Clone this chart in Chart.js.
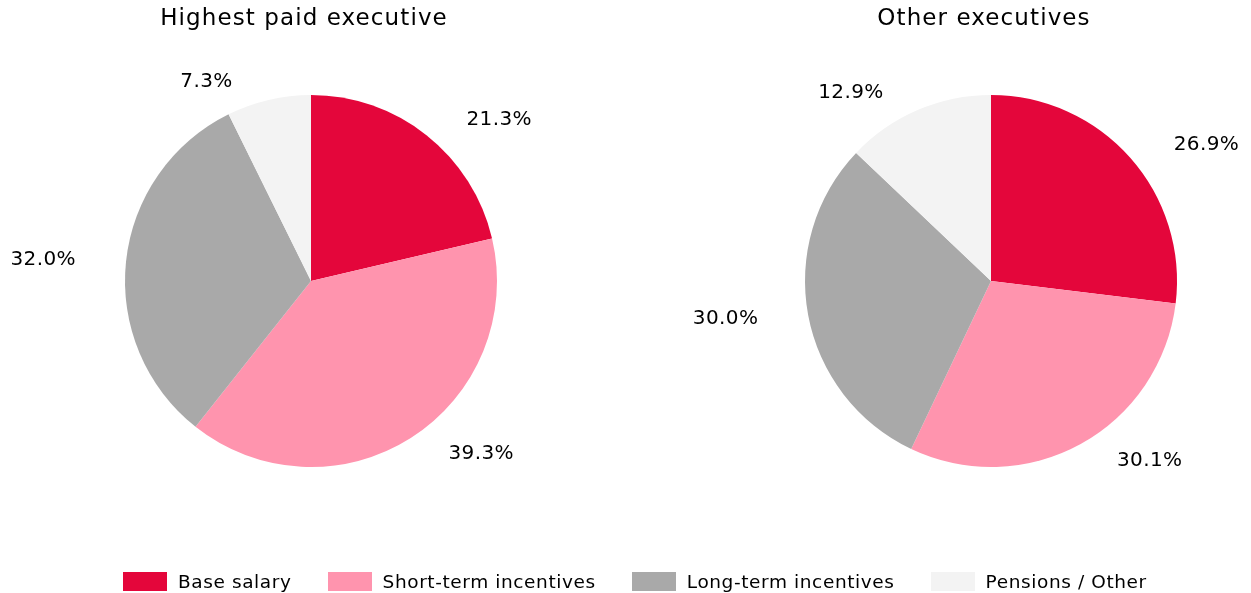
<!DOCTYPE html>
<html>
<head>
<meta charset="utf-8">
<script src="https://cdn.jsdelivr.net/npm/chart.js@4"></script>
<style>
  html, body { margin: 0; padding: 0; background: #fff; }
  body { width: 1251px; height: 593px; position: relative; overflow: hidden; font-family: "DejaVu Sans", sans-serif; }
  .pie { position: absolute; top: 0; width: 622px; height: 593px; }
  #legend { position: absolute; left: 123px; top: 571px; display: flex; align-items: center; font-size: 18.5px; letter-spacing: 0.6px; color: #000; }
  #legend .item { display: flex; align-items: center; margin-right: 36px; }
  #legend .box { width: 44px; height: 19px; margin-right: 11px; }
</style>
</head>
<body>
<div class="pie" style="left:0px"><canvas id="pieLeft"></canvas></div>
<div class="pie" style="left:680px"><canvas id="pieRight"></canvas></div>
<div id="legend"></div>
<script>
// categories and values (percent of total pay)
var categories = ['Base salary', 'Short-term incentives', 'Long-term incentives', 'Pensions / Other'];
var highestPaid = [21.3, 39.3, 32.0, 7.3];
var otherExecs = [26.9, 30.1, 30.0, 12.9];
var colors = ['#e4063b', '#ff94ae', '#a9a9a9', '#f3f3f3'];

// title sits a little left of the pie centre and is spaced wider
var titleStyle = {
  id: 'titleStyle',
  beforeDraw: function(chart) {
    var ctx = chart.ctx;
    ctx.save();
    ctx.translate(-7, 0);
    ctx.letterSpacing = '1.1px';
  },
  beforeDatasetsDraw: function(chart) {
    chart.ctx.restore();
  }
};

// draws the percentage labels outside each slice
var outsideLabels = {
  id: 'outsideLabels',
  afterDatasetsDraw: function(chart) {
    var ctx = chart.ctx;
    var meta = chart.getDatasetMeta(0);
    var values = chart.data.datasets[0].data;
    ctx.save();
    ctx.font = '20px "DejaVu Sans"';
    ctx.letterSpacing = '0.4px';
    ctx.fillStyle = '#000';
    ctx.textAlign = 'center';
    ctx.textBaseline = 'middle';
    meta.data.forEach(function(arc, i) {
      var p = arc.getProps(['x', 'y', 'startAngle', 'endAngle', 'outerRadius'], true);
      var mid = (p.startAngle + p.endAngle) / 2;
      var c = Math.cos(mid), s = Math.sin(mid);
      var sign = c >= 0 ? 1 : -1;
      var x = p.x + sign * (56 + (p.outerRadius + 27) * Math.abs(c));
      var y = p.y + (p.outerRadius + 19) * s;
      ctx.fillText(values[i].toFixed(1) + '%', x, y);
    });
    ctx.restore();
  }
};

function makePie(id, title, values) {
  var canvas = document.getElementById(id);
  return new Chart(canvas.getContext('2d'), {
    type: 'pie',
    data: {
      labels: categories,
      datasets: [{
        data: values,
        backgroundColor: colors,
        borderWidth: 0
      }]
    },
    options: {
      responsive: true,
      maintainAspectRatio: false,
      animation: false,
      layout: { padding: { top: 0, bottom: 126, left: 0, right: 0 } },
      plugins: {
        legend: { display: false },
        tooltip: { enabled: false },
        title: {
          display: true,
          text: title,
          color: '#000',
          font: { family: 'DejaVu Sans', size: 23, weight: 'normal', lineHeight: 1.2 },
          padding: { top: 5, bottom: 62.4 }
        }
      }
    },
    plugins: [titleStyle, outsideLabels]
  });
}

makePie('pieLeft', 'Highest paid executive', highestPaid);
makePie('pieRight', 'Other executives', otherExecs);

// shared legend
var legend = document.getElementById('legend');
categories.forEach(function(name, i) {
  var item = document.createElement('div');
  item.className = 'item';
  var box = document.createElement('div');
  box.className = 'box';
  box.style.background = colors[i];
  var label = document.createElement('span');
  label.textContent = name;
  item.appendChild(box);
  item.appendChild(label);
  legend.appendChild(item);
});
</script>
</body>
</html>
